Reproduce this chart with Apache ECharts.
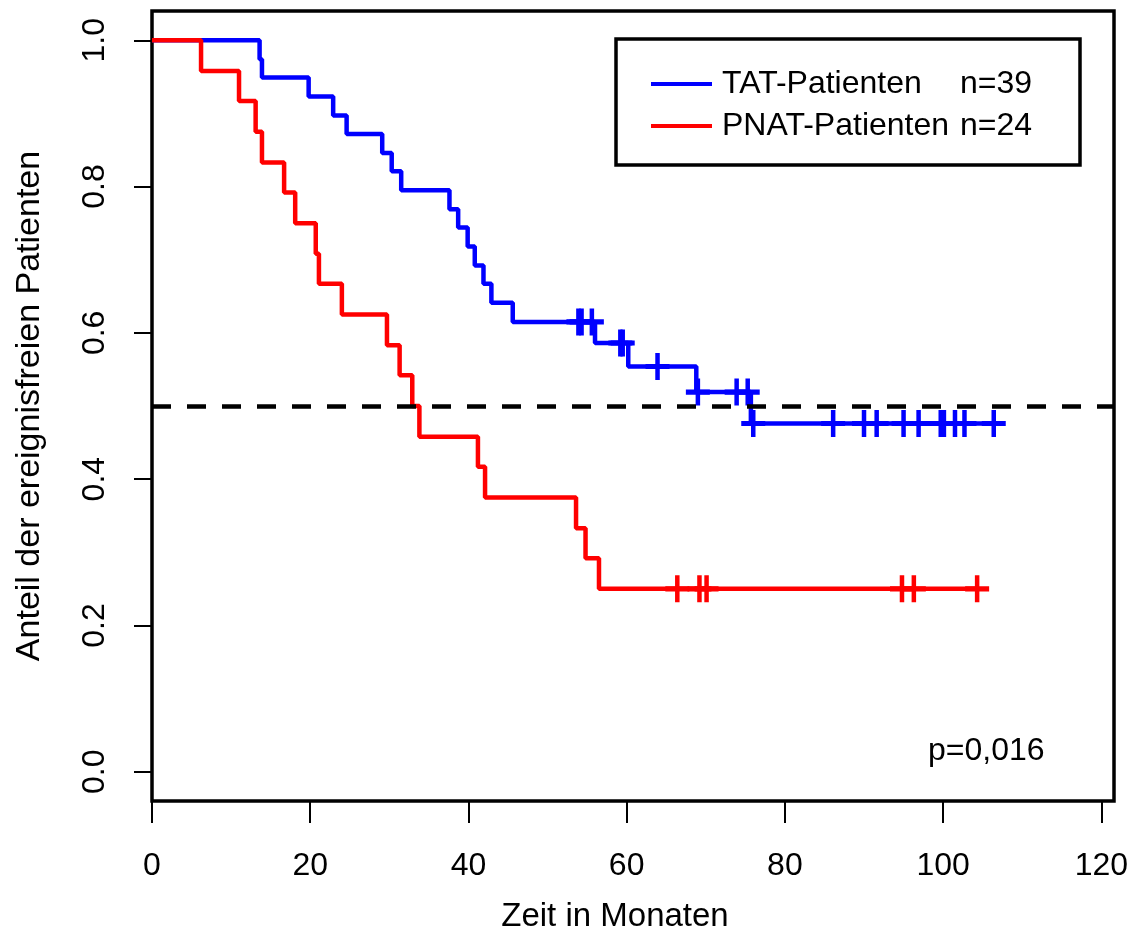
<!DOCTYPE html>
<html>
<head>
<meta charset="utf-8">
<script src="https://cdn.jsdelivr.net/npm/echarts@6/dist/echarts.min.js"></script>
<style>
  html, body { margin: 0; padding: 0; background: #fff; }
  #kmchart { width: 1141px; height: 938px; }
</style>
</head>
<body>
<div id="kmchart"></div>
<script>
// Kaplan-Meier Stufen (Zeit in Monaten, Anteil ereignisfrei)
var tatZeit = [0, 13.6, 13.9, 19.8, 22.9, 24.6, 29.1, 30.3, 31.5, 37.6, 38.7, 39.9, 40.8, 41.9, 42.9, 45.6, 56.0, 60.2, 68.8, 75.7, 106.4];
var tatAnteil = [1, 0.974, 0.949, 0.923, 0.897, 0.872, 0.846, 0.821, 0.795, 0.769, 0.744, 0.718, 0.692, 0.667, 0.641, 0.615, 0.586, 0.554, 0.519, 0.476, 0.476];
var pnatZeit = [0, 6.2, 11.0, 13.1, 13.9, 16.7, 18.1, 20.7, 21.1, 24.0, 29.7, 31.3, 32.9, 33.8, 41.2, 42.1, 53.6, 54.8, 56.5, 104.3];
var pnatAnteil = [1, 0.958, 0.917, 0.875, 0.833, 0.792, 0.75, 0.708, 0.667, 0.625, 0.583, 0.542, 0.5, 0.458, 0.417, 0.375, 0.333, 0.292, 0.25, 0.25];

// zensierte Beobachtungen (+)
var tatZensZeit = [53.9, 54.3, 55.6, 59.2, 59.5, 63.9, 69.0, 73.9, 75.3, 76.0, 86.1, 90.0, 91.6, 95.0, 96.9, 99.7, 100.1, 101.5, 102.7, 106.4];
var tatZensAnteil = [0.615, 0.615, 0.615, 0.586, 0.586, 0.554, 0.519, 0.519, 0.519, 0.476, 0.476, 0.476, 0.476, 0.476, 0.476, 0.476, 0.476, 0.476, 0.476, 0.476];
var pnatZensZeit = [66.4, 69.2, 70.1, 94.8, 96.3, 104.3];
var pnatZensAnteil = [0.25, 0.25, 0.25, 0.25, 0.25, 0.25];

var gruppen = ['TAT-Patienten', 'PNAT-Patienten'];
var fallzahl = ['n=39', 'n=24'];
var xTicks = [0, 20, 40, 60, 80, 100, 120];
var yTicks = [0, 0.2, 0.4, 0.6, 0.8, 1.0];

function paare(xs, ys) {
  return xs.map(function (x, i) { return [x, ys[i]]; });
}

// "+" wie pch=3 in R
var plusSymbol = 'path://M9.75,0 L14.25,0 L14.25,24 L9.75,24 Z M0,9.75 L24,9.75 L24,14.25 L0,14.25 Z';
var fontName = '"Liberation Sans", Arial, sans-serif';

var kmoption = {
  animation: false,
  textStyle: { fontFamily: fontName },
  grid: {
    left: 152,
    right: 27,
    top: 11,
    bottom: 137,
    show: true,
    borderColor: '#000',
    borderWidth: 3.5
  },
  legend: {
    orient: 'vertical',
    left: 646,
    top: 63,
    itemWidth: 61,
    itemHeight: 4,
    itemGap: 10,
    icon: 'rect',
    data: gruppen,
    formatter: function (name) {
      var i = gruppen.indexOf(name);
      return '{a|' + name + '}{b|' + fallzahl[i] + '}';
    },
    textStyle: {
      color: '#000',
      fontSize: 32,
      lineHeight: 32,
      rich: {
        a: { fontSize: 32, width: 238, padding: [0, 0, 0, 5], fontFamily: fontName },
        b: { fontSize: 32, fontFamily: fontName }
      }
    }
  },
  xAxis: {
    type: 'value',
    min: 0,
    max: 121.6,
    name: 'Zeit in Monaten',
    nameLocation: 'middle',
    nameGap: 99,
    nameTextStyle: { fontSize: 33, color: '#000', fontFamily: fontName, padding: [0, 36, 0, 0] },
    splitLine: { show: false },
    axisLine: { show: false, onZero: false },
    axisTick: { show: true, length: 22, customValues: xTicks, lineStyle: { color: '#000', width: 2 } },
    axisLabel: { customValues: xTicks, margin: 49, fontSize: 32, color: '#000', fontFamily: fontName }
  },
  yAxis: {
    type: 'value',
    min: -0.04,
    max: 1.04,
    name: 'Anteil der ereignisfreien Patienten',
    nameLocation: 'middle',
    nameGap: 105,
    nameTextStyle: { fontSize: 34, color: '#000', fontFamily: fontName },
    splitLine: { show: false },
    axisLine: { show: false, onZero: false },
    axisTick: { show: true, length: 18, customValues: yTicks, lineStyle: { color: '#000', width: 2 } },
    axisLabel: {
      customValues: yTicks,
      rotate: 90,
      margin: 41,
      fontSize: 32,
      color: '#000',
      fontFamily: fontName,
      formatter: function (v) { return v.toFixed(1); }
    }
  },
  graphic: [
    {
      type: 'rect',
      shape: { x: 616, y: 39, width: 464, height: 126 },
      style: { fill: '#fff', stroke: '#000', lineWidth: 3.5 },
      z: 0
    },
    {
      type: 'text',
      left: 928,
      top: 735,
      style: { text: 'p=0,016', fontSize: 32, fill: '#000', fontFamily: fontName }
    }
  ],
  series: [
    {
      name: gruppen[0],
      type: 'line',
      step: 'end',
      data: paare(tatZeit, tatAnteil),
      showSymbol: false,
      lineStyle: { color: '#0000ff', width: 4.5 },
      itemStyle: { color: '#0000ff' },
      z: 3,
      markLine: {
        silent: true,
        symbol: 'none',
        label: { show: false },
        lineStyle: { color: '#000', width: 4.5, type: [19, 16] },
        data: [{ yAxis: 0.5 }]
      }
    },
    {
      name: 'TAT zensiert',
      type: 'scatter',
      data: paare(tatZensZeit, tatZensAnteil),
      symbol: plusSymbol,
      symbolSize: [24, 27],
      itemStyle: { color: '#0000ff', opacity: 1 },
      z: 3
    },
    {
      name: gruppen[1],
      type: 'line',
      step: 'end',
      data: paare(pnatZeit, pnatAnteil),
      showSymbol: false,
      lineStyle: { color: '#ff0000', width: 4.5 },
      itemStyle: { color: '#ff0000' },
      z: 4
    },
    {
      name: 'PNAT zensiert',
      type: 'scatter',
      data: paare(pnatZensZeit, pnatZensAnteil),
      symbol: plusSymbol,
      symbolSize: [24, 27],
      itemStyle: { color: '#ff0000', opacity: 1 },
      z: 4
    }
  ]
};

var kmdom = document.getElementById('kmchart');
var kmChart = echarts.init(kmdom);
kmoption && kmChart.setOption(kmoption);
</script>
</body>
</html>
